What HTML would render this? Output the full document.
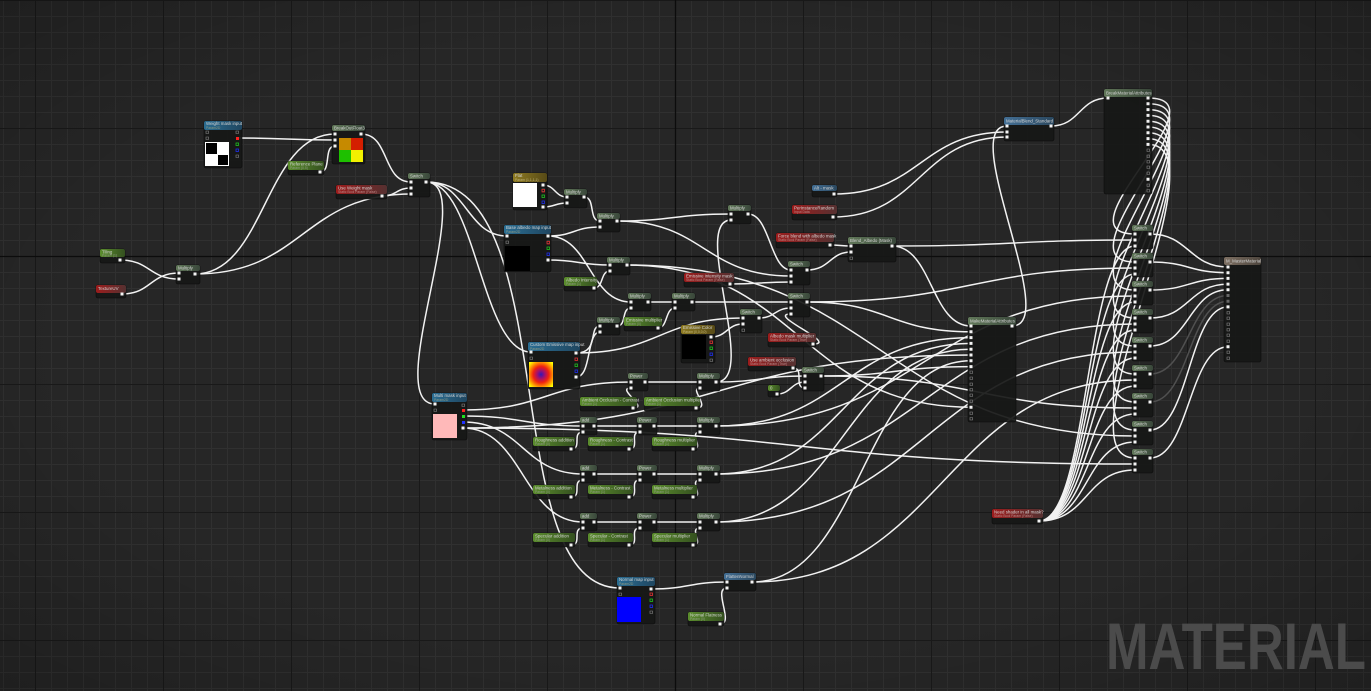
<!DOCTYPE html>
<html><head><meta charset="utf-8"><style>
html,body{margin:0;padding:0;background:#262626;overflow:hidden}
svg{display:block}
.t{font:4.4px "Liberation Sans",sans-serif;fill:#d4d4d4}
.s{font:3.4px "Liberation Sans",sans-serif;fill:#8d9a82}
.w path{fill:none;stroke:#f2f2f2;stroke-width:1.5;stroke-linecap:round}
.b{fill:#171817;fill-opacity:.93;stroke:#0b0b0b;stroke-width:.6}
</style></head><body>
<svg width="1371" height="691" viewBox="0 0 1371 691" xmlns="http://www.w3.org/2000/svg">
<defs>
<pattern id="fg" x="3" y="0" width="16" height="16" patternUnits="userSpaceOnUse"><path d="M0 .5H16M.5 0V16" stroke="#303030" stroke-width="1" fill="none"/></pattern>
<linearGradient id="gM"><stop offset="0" stop-color="#62795a"/><stop offset="1" stop-color="#39473a"/></linearGradient>
<linearGradient id="gP"><stop offset="0" stop-color="#5b8d2d"/><stop offset="1" stop-color="#34501f"/></linearGradient>
<linearGradient id="gR"><stop offset="0" stop-color="#9c1c1c"/><stop offset="1" stop-color="#553131"/></linearGradient>
<linearGradient id="gT"><stop offset="0" stop-color="#2b6e93"/><stop offset="1" stop-color="#1f4660"/></linearGradient>
<linearGradient id="gY"><stop offset="0" stop-color="#8e7b22"/><stop offset="1" stop-color="#574a16"/></linearGradient>
<linearGradient id="gF"><stop offset="0" stop-color="#436f95"/><stop offset="1" stop-color="#2a475e"/></linearGradient>
<linearGradient id="gO"><stop offset="0" stop-color="#7d6f62"/><stop offset="1" stop-color="#4d453d"/></linearGradient>
<radialGradient id="emi" cx=".5" cy=".5" r=".72"><stop offset="0" stop-color="#3018b8"/><stop offset=".22" stop-color="#a01070"/><stop offset=".45" stop-color="#f02010"/><stop offset=".7" stop-color="#ff9a00"/><stop offset=".9" stop-color="#ffff00"/></radialGradient>
<radialGradient id="vig" cx=".5" cy=".5" r=".75"><stop offset=".6" stop-color="#000" stop-opacity="0"/><stop offset="1" stop-color="#000" stop-opacity=".22"/></radialGradient>
</defs>
<rect width="1371" height="691" fill="#262626"/>
<rect width="1371" height="691" fill="url(#fg)"/>
<path d="M35.5 0V691M163.5 0V691M291.5 0V691M419.5 0V691M547.5 0V691M803.5 0V691M931.5 0V691M1059.5 0V691M1187.5 0V691M1315.5 0V691M0 .5H1371M0 128.5H1371M0 384.5H1371M0 512.5H1371M0 640.5H1371" stroke="#191919" stroke-width="1"/>
<path d="M675.5 0V691M0 256.5H1371" stroke="#0c0c0c" stroke-width="1.3"/>

<g class="w">
<path d="M120 260C150 260 149 279 179 279"/>
<path d="M122 294C151 294 150 273 179 273"/>
<path d="M195 274C265 274 265 134 335 134"/>
<path d="M195 274C303 274 303 194 411 194"/>
<path d="M237 138C286 138 286 140 335 140"/>
<path d="M320 172C332 172 323 146 335 146"/>
<path d="M361 134C390 134 382 182 411 182"/>
<path d="M382 196C397 196 396 188 411 188"/>
<path d="M426 182C466 182 467 236 507 236"/>
<path d="M426 182C480 182 380 404 435 404"/>
<path d="M426 182C476 182 481 352 531 352"/>
<path d="M426 182C565 182 495 588 620 588"/>
<path d="M543 185C555 185 555 197 567 197"/>
<path d="M543 207C555 207 555 203 567 203"/>
<path d="M584 197C596 197 588 221 600 221"/>
<path d="M548 236C574 236 574 227 600 227"/>
<path d="M548 236C590 236 589 302 631 302"/>
<path d="M548 260C579 260 579 265 610 265"/>
<path d="M594 288C604 288 600 271 610 271"/>
<path d="M617 326C627 326 621 308 631 308"/>
<path d="M617 221C674 221 674 214 731 214"/>
<path d="M617 221C704 221 704 276 791 276"/>
<path d="M648 302L675 302"/>
<path d="M658 328C668 328 665 308 675 308"/>
<path d="M692 302C740 302 743 302 791 302"/>
<path d="M576 353C600 353 588 326 600 326"/>
<path d="M576 377C592 377 586 332 600 332"/>
<path d="M576 353C660 353 660 318 743 318"/>
<path d="M711 337C727 337 727 324 743 324"/>
<path d="M759 318C775 318 775 308 791 308"/>
<path d="M730 284C760 284 760 282 791 282"/>
<path d="M813 344C840 344 765 314 791 314"/>
<path d="M748 214C770 214 770 270 791 270"/>
<path d="M807 270C830 270 830 252 851 252"/>
<path d="M830 245C840 245 841 246 851 246"/>
<path d="M463 410C547 410 547 382 631 382"/>
<path d="M633 408C650 408 615 388 631 388"/>
<path d="M645 382L700 382"/>
<path d="M696 408C712 408 688 388 700 388"/>
<path d="M716 382C760 382 761 376 805 376"/>
<path d="M716 382C760 382 690 220 731 220"/>
<path d="M777 394C791 394 791 382 805 382"/>
<path d="M793 368C805 368 793 388 805 388"/>
<path d="M463 416C523 416 523 426 583 426"/>
<path d="M463 422C523 422 523 474 583 474"/>
<path d="M463 428C523 428 523 522 583 522"/>
<path d="M594 426L640 426M654 426L700 426M571 449C583 449 571 432 583 432M629 449C641 449 628 432 640 432M693 449C705 449 688 432 700 432"/>
<path d="M594 474L640 474M654 474L700 474M571 497C583 497 571 480 583 480M629 497C641 497 628 480 640 480M693 497C705 497 688 480 700 480"/>
<path d="M594 522L640 522M654 522L700 522M571 545C583 545 571 528 583 528M629 545C641 545 628 528 640 528M693 545C705 545 688 528 700 528"/>
<path d="M651 589C689 589 689 582 727 582"/>
<path d="M720 624C735 624 712 588 727 588"/>
<path d="M892 246C932 246 931 326 971 326"/>
<path d="M807 302C889 302 889 331.8 971 331.8"/>
<path d="M716 426C843 426 844 337.6 971 337.6"/>
<path d="M716 474C843 474 844 343.4 971 343.4"/>
<path d="M716 522C843 522 844 349.2 971 349.2"/>
<path d="M463 428C717 428 717 355 971 355"/>
<path d="M752 582C862 582 861 360.8 971 360.8"/>
<path d="M821 376C896 376 896 366.6 971 366.6"/>
<path d="M627 265C799 265 799 407.2 971 407.2"/>
<path d="M892 246C1013 246 1014 240 1135 240"/>
<path d="M807 302C971 302 971 268 1135 268"/>
<path d="M716 426C925 426 926 296 1135 296"/>
<path d="M716 474C925 474 926 324 1135 324"/>
<path d="M716 522C925 522 926 352 1135 352"/>
<path d="M752 582C943 582 944 380 1135 380"/>
<path d="M821 376C978 376 978 408 1135 408"/>
<path d="M627 265C881 265 881 436 1135 436"/>
<path d="M463 428C799 428 799 464 1135 464"/>
<path d="M1012 326C1062 326 957 126 1007 126"/>
<path d="M834 194C920 194 921 132 1007 132"/>
<path d="M833 217C920 217 920 137 1007 137"/>
<path d="M1051 126C1080 126 1079 98 1108 98"/>
<path d="M1148 98C1228 98 1055 234 1135 234"/>
<path d="M1148 103.8C1228 103.8 1055 262 1135 262"/>
<path d="M1148 109.6C1228 109.6 1055 290 1135 290"/>
<path d="M1148 115.4C1228 115.4 1055 318 1135 318"/>
<path d="M1148 121.2C1228 121.2 1055 346 1135 346"/>
<path d="M1148 127C1228 127 1055 374 1135 374"/>
<path d="M1148 132.8C1228 132.8 1055 402 1135 402"/>
<path d="M1148 138.6C1228 138.6 1055 430 1135 430"/>
<path d="M1148 144.4C1228 144.4 1055 458 1135 458"/>
<path d="M1039 521C1089 521 1085 246 1135 246"/>
<path d="M1039 521C1089 521 1085 274 1135 274"/>
<path d="M1039 521C1089 521 1085 302 1135 302"/>
<path d="M1039 521C1089 521 1085 330 1135 330"/>
<path d="M1039 521C1089 521 1085 358 1135 358"/>
<path d="M1039 521C1089 521 1085 386 1135 386"/>
<path d="M1039 521C1089 521 1085 414 1135 414"/>
<path d="M1039 521C1089 521 1085 442 1135 442"/>
<path d="M1039 521C1089 521 1085 470 1135 470"/>
<path d="M1150 234C1189 234 1189 267 1228 267"/>
<path d="M1150 262C1189 262 1189 272.7 1228 272.7"/>
<path d="M1150 290C1189 290 1189 278.4 1228 278.4"/>
<path d="M1150 318C1189 318 1189 284.1 1228 284.1"/>
<path d="M1150 346C1189 346 1189 289.8 1228 289.8"/>
<path d="M1150 374C1189 374 1189 295.5 1228 295.5" style="stroke:#505050"/>
<path d="M1150 402C1189 402 1189 301.2 1228 301.2" style="stroke:#505050"/>
<path d="M1150 430C1189 430 1189 306.9 1228 306.9"/>
<path d="M1150 458C1189 458 1189 346.8 1228 346.8"/>
</g>

<g>
<g transform="translate(100,249)"><rect class="b" width="25" height="14" rx="2"/><rect width="25" height="8" rx="2" fill="url(#gP)"/><text class="t" x="2" y="4.5">Tiling</text><text class="s" x="2" y="7.6">Param (1)</text></g>
<g transform="translate(96,285)"><rect class="b" width="30" height="13" rx="2"/><rect width="30" height="8" rx="2" fill="url(#gR)"/><text class="t" x="2" y="5">TextureUV</text></g>
<g transform="translate(176,265)"><rect class="b" width="24" height="19" rx="2"/><rect width="24" height="6" rx="2" fill="url(#gM)"/><text class="t" x="2" y="4.6">Multiply</text></g>
<g transform="translate(204,121)"><rect class="b" width="38" height="47" rx="2"/><rect width="38" height="9" rx="2" fill="url(#gT)"/><text class="t" x="2" y="4.2">Weight mask input</text><text class="s" x="2" y="7.8">Param2D</text></g>
<rect x="205" y="142" width="24" height="24" fill="#fff"/><rect x="206" y="143" width="11" height="11" fill="#000"/><rect x="218" y="155" width="10" height="10" fill="#000"/>
<g transform="translate(332,125)"><rect class="b" width="33" height="39" rx="2"/><rect width="33" height="6" rx="2" fill="url(#gM)"/><text class="t" x="2" y="4.6">BreakOutFloat3</text></g>
<rect x="339" y="138" width="12" height="12" fill="#c68a00"/><rect x="351" y="138" width="12" height="12" fill="#d41e00"/><rect x="339" y="150" width="12" height="12" fill="#1ec000"/><rect x="351" y="150" width="12" height="12" fill="#f2f000"/>
<g transform="translate(288,161)"><rect class="b" width="36" height="14" rx="2"/><rect width="36" height="9" rx="2" fill="url(#gP)"/><text class="t" x="2" y="4.4">Reference Plane</text><text class="s" x="2" y="8">Param (0.5)</text></g>
<g transform="translate(336,185)"><rect class="b" width="51" height="14" rx="2"/><rect width="51" height="9" rx="2" fill="url(#gR)"/><text class="t" x="2" y="4.4">Use Weight mask</text><text class="s" x="2" y="8" style="fill:#b88">Static Bool Param (False)</text></g>
<g transform="translate(408,173)"><rect class="b" width="22" height="24" rx="2"/><rect width="22" height="6" rx="2" fill="url(#gM)"/><text class="t" x="2" y="4.6">Switch</text></g>
<g transform="translate(513,173)"><rect class="b" width="34" height="37" rx="2"/><rect width="34" height="9" rx="2" fill="url(#gY)"/><text class="t" x="2" y="4.2">Flat</text><text class="s" x="2" y="7.8" style="fill:#bfb37a">Param (1,1,1,1)</text></g>
<rect x="513" y="183" width="24" height="24" fill="#fff"/>
<g transform="translate(564,189)"><rect class="b" width="23" height="19" rx="2"/><rect width="23" height="6" rx="2" fill="url(#gM)"/><text class="t" x="2" y="4.6">Multiply</text></g>
<g transform="translate(597,213)"><rect class="b" width="23" height="19" rx="2"/><rect width="23" height="6" rx="2" fill="url(#gM)"/><text class="t" x="2" y="4.6">Multiply</text></g>
<g transform="translate(504,225)"><rect class="b" width="47" height="47" rx="2"/><rect width="47" height="9" rx="2" fill="url(#gT)"/><text class="t" x="2" y="4.2">Base albedo map input</text><text class="s" x="2" y="7.8">Param2D</text></g>
<rect x="505" y="246" width="25" height="25" fill="#000"/>
<g transform="translate(607,257)"><rect class="b" width="23" height="18" rx="2"/><rect width="23" height="6" rx="2" fill="url(#gM)"/><text class="t" x="2" y="4.6">Multiply</text></g>
<g transform="translate(564,277)"><rect class="b" width="33" height="14" rx="2"/><rect width="33" height="9" rx="2" fill="url(#gP)"/><text class="t" x="2" y="4.4">Albedo Intensity</text><text class="s" x="2" y="8">Param (1)</text></g>
<g transform="translate(628,293)"><rect class="b" width="23" height="18" rx="2"/><rect width="23" height="6" rx="2" fill="url(#gM)"/><text class="t" x="2" y="4.6">Multiply</text></g>
<g transform="translate(672,293)"><rect class="b" width="23" height="18" rx="2"/><rect width="23" height="6" rx="2" fill="url(#gM)"/><text class="t" x="2" y="4.6">Multiply</text></g>
<g transform="translate(597,317)"><rect class="b" width="23" height="18" rx="2"/><rect width="23" height="6" rx="2" fill="url(#gM)"/><text class="t" x="2" y="4.6">Multiply</text></g>
<g transform="translate(624,317)"><rect class="b" width="38" height="14" rx="2"/><rect width="38" height="9" rx="2" fill="url(#gP)"/><text class="t" x="2" y="4.4">Emissive multiplier</text><text class="s" x="2" y="8">Param (0)</text></g>
<g transform="translate(681,325)"><rect class="b" width="34" height="38" rx="2"/><rect width="34" height="9" rx="2" fill="url(#gY)"/><text class="t" x="2" y="4.2">Emissive Color</text><text class="s" x="2" y="7.8" style="fill:#bfb37a">Param (0,0,0,0)</text></g>
<rect x="682" y="335" width="24" height="24" fill="#000"/>
<g transform="translate(528,342)"><rect class="b" width="52" height="47" rx="2"/><rect width="52" height="9" rx="2" fill="url(#gT)"/><text class="t" x="2" y="4.2">Custom Emissive map input</text><text class="s" x="2" y="7.8">Param2D</text></g>
<rect x="529" y="362" width="24" height="25" fill="url(#emi)"/>
<g transform="translate(728,205)"><rect class="b" width="23" height="19" rx="2"/><rect width="23" height="6" rx="2" fill="url(#gM)"/><text class="t" x="2" y="4.6">Multiply</text></g>
<g transform="translate(684,273)"><rect class="b" width="50" height="14" rx="2"/><rect width="50" height="9" rx="2" fill="url(#gR)"/><text class="t" x="2" y="4.4">Emissive intensity mask</text><text class="s" x="2" y="8" style="fill:#b88">Static Bool Param (False)</text></g>
<g transform="translate(788,261)"><rect class="b" width="22" height="24" rx="2"/><rect width="22" height="6" rx="2" fill="url(#gM)"/><text class="t" x="2" y="4.6">Switch</text></g>
<g transform="translate(788,293)"><rect class="b" width="22" height="24" rx="2"/><rect width="22" height="6" rx="2" fill="url(#gM)"/><text class="t" x="2" y="4.6">Switch</text></g>
<g transform="translate(740,309)"><rect class="b" width="22" height="24" rx="2"/><rect width="22" height="6" rx="2" fill="url(#gM)"/><text class="t" x="2" y="4.6">Switch</text></g>
<g transform="translate(768,333)"><rect class="b" width="48" height="14" rx="2"/><rect width="48" height="9" rx="2" fill="url(#gR)"/><text class="t" x="2" y="4.4">Albedo mask multiplier</text><text class="s" x="2" y="8" style="fill:#b88">Static Bool Param (True)</text></g>
<g transform="translate(748,357)"><rect class="b" width="48" height="14" rx="2"/><rect width="48" height="9" rx="2" fill="url(#gR)"/><text class="t" x="2" y="4.4">Use ambient occlusion</text><text class="s" x="2" y="8" style="fill:#b88">Static Bool Param (True)</text></g>
<g transform="translate(802,367)"><rect class="b" width="22" height="24" rx="2"/><rect width="22" height="6" rx="2" fill="url(#gM)"/><text class="t" x="2" y="4.6">Switch</text></g>
<g transform="translate(768,385)"><rect class="b" width="12" height="12" rx="2"/><rect width="12" height="6" rx="2" fill="url(#gP)"/><text class="t" x="2" y="4.6">0</text></g>
<g transform="translate(628,373)"><rect class="b" width="20" height="18" rx="2"/><rect width="20" height="6" rx="2" fill="url(#gM)"/><text class="t" x="2" y="4.6">Power</text></g>
<g transform="translate(697,373)"><rect class="b" width="23" height="18" rx="2"/><rect width="23" height="6" rx="2" fill="url(#gM)"/><text class="t" x="2" y="4.6">Multiply</text></g>
<g transform="translate(580,397)"><rect class="b" width="57" height="14" rx="2"/><rect width="57" height="9" rx="2" fill="url(#gP)"/><text class="t" x="2" y="4.4">Ambient Occlusion - Contrast</text><text class="s" x="2" y="8">Param (1)</text></g>
<g transform="translate(644,397)"><rect class="b" width="56" height="14" rx="2"/><rect width="56" height="9" rx="2" fill="url(#gP)"/><text class="t" x="2" y="4.4">Ambient Occlusion multiplier</text><text class="s" x="2" y="8">Param (1)</text></g>
<g transform="translate(432,393)"><rect class="b" width="35" height="47" rx="2"/><rect width="35" height="9" rx="2" fill="url(#gT)"/><text class="t" x="2" y="4.2">Multi mask input</text><text class="s" x="2" y="7.8">Param2D</text></g>
<rect x="433" y="414" width="24" height="24" fill="#ffb9b9"/>

<g transform="translate(580,417)"><rect class="b" width="17" height="18" rx="2"/><rect width="17" height="6" rx="2" fill="url(#gM)"/><text class="t" x="2" y="4.6">add</text></g>
<g transform="translate(637,417)"><rect class="b" width="20" height="18" rx="2"/><rect width="20" height="6" rx="2" fill="url(#gM)"/><text class="t" x="2" y="4.6">Power</text></g>
<g transform="translate(697,417)"><rect class="b" width="23" height="18" rx="2"/><rect width="23" height="6" rx="2" fill="url(#gM)"/><text class="t" x="2" y="4.6">Multiply</text></g>
<g transform="translate(533,437)"><rect class="b" width="42" height="14" rx="2"/><rect width="42" height="9" rx="2" fill="url(#gP)"/><text class="t" x="2" y="4.4">Roughness addition</text><text class="s" x="2" y="8">Param (0)</text></g>
<g transform="translate(588,437)"><rect class="b" width="45" height="14" rx="2"/><rect width="45" height="9" rx="2" fill="url(#gP)"/><text class="t" x="2" y="4.4">Roughness - Contrast</text><text class="s" x="2" y="8">Param (1)</text></g>
<g transform="translate(652,437)"><rect class="b" width="45" height="14" rx="2"/><rect width="45" height="9" rx="2" fill="url(#gP)"/><text class="t" x="2" y="4.4">Roughness multiplier</text><text class="s" x="2" y="8">Param (1)</text></g>

<g transform="translate(580,465)"><rect class="b" width="17" height="18" rx="2"/><rect width="17" height="6" rx="2" fill="url(#gM)"/><text class="t" x="2" y="4.6">add</text></g>
<g transform="translate(637,465)"><rect class="b" width="20" height="18" rx="2"/><rect width="20" height="6" rx="2" fill="url(#gM)"/><text class="t" x="2" y="4.6">Power</text></g>
<g transform="translate(697,465)"><rect class="b" width="23" height="18" rx="2"/><rect width="23" height="6" rx="2" fill="url(#gM)"/><text class="t" x="2" y="4.6">Multiply</text></g>
<g transform="translate(533,485)"><rect class="b" width="42" height="14" rx="2"/><rect width="42" height="9" rx="2" fill="url(#gP)"/><text class="t" x="2" y="4.4">Metalness addition</text><text class="s" x="2" y="8">Param (0)</text></g>
<g transform="translate(588,485)"><rect class="b" width="45" height="14" rx="2"/><rect width="45" height="9" rx="2" fill="url(#gP)"/><text class="t" x="2" y="4.4">Metalness - Contrast</text><text class="s" x="2" y="8">Param (1)</text></g>
<g transform="translate(652,485)"><rect class="b" width="45" height="14" rx="2"/><rect width="45" height="9" rx="2" fill="url(#gP)"/><text class="t" x="2" y="4.4">Metalness multiplier</text><text class="s" x="2" y="8">Param (1)</text></g>

<g transform="translate(580,513)"><rect class="b" width="17" height="18" rx="2"/><rect width="17" height="6" rx="2" fill="url(#gM)"/><text class="t" x="2" y="4.6">add</text></g>
<g transform="translate(637,513)"><rect class="b" width="20" height="18" rx="2"/><rect width="20" height="6" rx="2" fill="url(#gM)"/><text class="t" x="2" y="4.6">Power</text></g>
<g transform="translate(697,513)"><rect class="b" width="23" height="18" rx="2"/><rect width="23" height="6" rx="2" fill="url(#gM)"/><text class="t" x="2" y="4.6">Multiply</text></g>
<g transform="translate(533,533)"><rect class="b" width="42" height="14" rx="2"/><rect width="42" height="9" rx="2" fill="url(#gP)"/><text class="t" x="2" y="4.4">Specular addition</text><text class="s" x="2" y="8">Param (0)</text></g>
<g transform="translate(588,533)"><rect class="b" width="45" height="14" rx="2"/><rect width="45" height="9" rx="2" fill="url(#gP)"/><text class="t" x="2" y="4.4">Specular - Contrast</text><text class="s" x="2" y="8">Param (1)</text></g>
<g transform="translate(652,533)"><rect class="b" width="45" height="14" rx="2"/><rect width="45" height="9" rx="2" fill="url(#gP)"/><text class="t" x="2" y="4.4">Specular multiplier</text><text class="s" x="2" y="8">Param (1)</text></g>

<g transform="translate(617,577)"><rect class="b" width="38" height="47" rx="2"/><rect width="38" height="9" rx="2" fill="url(#gT)"/><text class="t" x="2" y="4.2">Normal map input</text><text class="s" x="2" y="7.8">Param2D</text></g>
<rect x="617" y="597" width="24" height="25" fill="#0000ff"/>
<g transform="translate(724,573)"><rect class="b" width="32" height="18" rx="2"/><rect width="32" height="7" rx="2" fill="url(#gF)"/><text class="t" x="2" y="5">FlattenNormal</text></g>
<g transform="translate(688,612)"><rect class="b" width="36" height="14" rx="2"/><rect width="36" height="9" rx="2" fill="url(#gP)"/><text class="t" x="2" y="4.4">Normal Flatness</text><text class="s" x="2" y="8">Param (0)</text></g>

<g transform="translate(812,185)"><rect class="b" width="25" height="12" rx="2"/><rect width="25" height="6" rx="2" fill="url(#gF)"/><text class="t" x="2" y="4.6">Alt - mask</text></g>
<g transform="translate(792,205)"><rect class="b" width="45" height="15" rx="2"/><rect width="45" height="9" rx="2" fill="url(#gR)"/><text class="t" x="2" y="4.4">PerInstanceRandom</text><text class="s" x="2" y="8" style="fill:#b88">Input Data</text></g>
<g transform="translate(776,233)"><rect class="b" width="58" height="15" rx="2"/><rect width="58" height="9" rx="2" fill="url(#gR)"/><text class="t" x="2" y="4.4">Force blend with albedo mask</text><text class="s" x="2" y="8" style="fill:#b88">Static Bool Param (False)</text></g>
<g transform="translate(848,237)"><rect class="b" width="48" height="25" rx="2"/><rect width="48" height="7" rx="2" fill="url(#gM)"/><text class="t" x="2" y="5">Blend_Albedo (Mask)</text></g>

<g transform="translate(968,317)"><rect class="b" width="48" height="105" rx="2"/><rect width="48" height="8" rx="2" fill="url(#gM)"/><text class="t" x="2" y="5.4">MakeMaterialAttributes</text></g>
<g transform="translate(1004,117)"><rect class="b" width="50" height="24" rx="2"/><rect width="50" height="8" rx="2" fill="url(#gF)"/><text class="t" x="2" y="5.4">MaterialBlend_Standard</text></g>
<g transform="translate(1104,89)"><rect class="b" width="48" height="105" rx="2"/><rect width="48" height="8" rx="2" fill="url(#gM)"/><text class="t" x="2" y="5.4">BreakMaterialAttributes</text></g>
<g transform="translate(1132,225)"><rect class="b" width="21" height="24" rx="2"/><rect width="21" height="6" rx="2" fill="url(#gM)"/><text class="t" x="2" y="4.6">Switch</text></g>
<g transform="translate(1132,253)"><rect class="b" width="21" height="24" rx="2"/><rect width="21" height="6" rx="2" fill="url(#gM)"/><text class="t" x="2" y="4.6">Switch</text></g>
<g transform="translate(1132,281)"><rect class="b" width="21" height="24" rx="2"/><rect width="21" height="6" rx="2" fill="url(#gM)"/><text class="t" x="2" y="4.6">Switch</text></g>
<g transform="translate(1132,309)"><rect class="b" width="21" height="24" rx="2"/><rect width="21" height="6" rx="2" fill="url(#gM)"/><text class="t" x="2" y="4.6">Switch</text></g>
<g transform="translate(1132,337)"><rect class="b" width="21" height="24" rx="2"/><rect width="21" height="6" rx="2" fill="url(#gM)"/><text class="t" x="2" y="4.6">Switch</text></g>
<g transform="translate(1132,365)"><rect class="b" width="21" height="24" rx="2"/><rect width="21" height="6" rx="2" fill="url(#gM)"/><text class="t" x="2" y="4.6">Switch</text></g>
<g transform="translate(1132,393)"><rect class="b" width="21" height="24" rx="2"/><rect width="21" height="6" rx="2" fill="url(#gM)"/><text class="t" x="2" y="4.6">Switch</text></g>
<g transform="translate(1132,421)"><rect class="b" width="21" height="24" rx="2"/><rect width="21" height="6" rx="2" fill="url(#gM)"/><text class="t" x="2" y="4.6">Switch</text></g>
<g transform="translate(1132,449)"><rect class="b" width="21" height="24" rx="2"/><rect width="21" height="6" rx="2" fill="url(#gM)"/><text class="t" x="2" y="4.6">Switch</text></g>
<g transform="translate(1224,257)"><rect class="b" width="37" height="105" rx="2"/><rect width="37" height="8" rx="2" fill="url(#gO)"/><text class="t" x="2" y="5.4">M_MasterMaterial</text></g>
<g transform="translate(992,509)"><rect class="b" width="51" height="15" rx="2"/><rect width="51" height="9" rx="2" fill="url(#gR)"/><text class="t" x="2" y="4.4">Need shader in all mask?</text><text class="s" x="2" y="8" style="fill:#b88">Static Bool Param (False)</text></g>
</g>

<path fill="#f4f4f4" d="M118.5 258.5h3v3h-3zM120.5 292.5h3v3h-3zM193.5 272.5h3v3h-3zM359.5 132.5h3v3h-3zM318.5 170.5h3v3h-3zM380.5 194.5h3v3h-3zM424.5 180.5h3v3h-3zM541.5 183.5h3v3h-3zM541.5 205.5h3v3h-3zM582.5 195.5h3v3h-3zM615.5 219.5h3v3h-3zM546.5 234.5h3v3h-3zM546.5 258.5h3v3h-3zM625.5 263.5h3v3h-3zM592.5 286.5h3v3h-3zM646.5 300.5h3v3h-3zM690.5 300.5h3v3h-3zM615.5 324.5h3v3h-3zM656.5 326.5h3v3h-3zM709.5 335.5h3v3h-3zM574.5 351.5h3v3h-3zM574.5 375.5h3v3h-3zM746.5 212.5h3v3h-3zM728.5 282.5h3v3h-3zM805.5 268.5h3v3h-3zM805.5 300.5h3v3h-3zM757.5 316.5h3v3h-3zM811.5 342.5h3v3h-3zM791.5 366.5h3v3h-3zM819.5 374.5h3v3h-3zM775.5 392.5h3v3h-3zM643.5 380.5h3v3h-3zM714.5 380.5h3v3h-3zM631.5 406.5h3v3h-3zM694.5 406.5h3v3h-3zM461.5 426.5h3v3h-3z
M592.5 424.5h3v3h-3zM652.5 424.5h3v3h-3zM714.5 424.5h3v3h-3zM569.5 447.5h3v3h-3zM627.5 447.5h3v3h-3zM691.5 447.5h3v3h-3z
M592.5 472.5h3v3h-3zM652.5 472.5h3v3h-3zM714.5 472.5h3v3h-3zM569.5 495.5h3v3h-3zM627.5 495.5h3v3h-3zM691.5 495.5h3v3h-3z
M592.5 520.5h3v3h-3zM652.5 520.5h3v3h-3zM714.5 520.5h3v3h-3zM569.5 543.5h3v3h-3zM627.5 543.5h3v3h-3zM691.5 543.5h3v3h-3z
M649.5 587.5h3v3h-3zM750.5 580.5h3v3h-3zM718.5 622.5h3v3h-3zM832.5 192.5h3v3h-3zM831.5 215.5h3v3h-3zM828.5 243.5h3v3h-3zM890.5 244.5h3v3h-3zM1010.5 324.5h3v3h-3zM1049.5 124.5h3v3h-3zM1037.5 519.5h3v3h-3z
M1148.5 232.5h3v3h-3zM1148.5 260.5h3v3h-3zM1148.5 288.5h3v3h-3zM1148.5 316.5h3v3h-3zM1148.5 344.5h3v3h-3zM1148.5 372.5h3v3h-3zM1148.5 400.5h3v3h-3zM1148.5 428.5h3v3h-3zM1148.5 456.5h3v3h-3z
M1146.5 96.5h3v3h-3zM1146.5 102.3h3v3h-3zM1146.5 108.1h3v3h-3zM1146.5 113.9h3v3h-3zM1146.5 119.7h3v3h-3zM1146.5 125.5h3v3h-3zM1146.5 131.3h3v3h-3zM1146.5 137.1h3v3h-3zM1146.5 142.9h3v3h-3zM1146.5 177.7h3v3h-3z
M177.5 271.5h3v3h-3zM177.5 277.5h3v3h-3zM333.5 132.5h3v3h-3zM333.5 138.5h3v3h-3zM333.5 144.5h3v3h-3zM409.5 180.5h3v3h-3zM409.5 186.5h3v3h-3zM409.5 192.5h3v3h-3zM505.5 234.5h3v3h-3zM529.5 350.5h3v3h-3zM433.5 402.5h3v3h-3zM618.5 586.5h3v3h-3z
M565.5 195.5h3v3h-3zM565.5 201.5h3v3h-3zM598.5 219.5h3v3h-3zM598.5 225.5h3v3h-3zM608.5 263.5h3v3h-3zM608.5 269.5h3v3h-3zM629.5 300.5h3v3h-3zM629.5 306.5h3v3h-3zM673.5 300.5h3v3h-3zM673.5 306.5h3v3h-3zM598.5 324.5h3v3h-3zM598.5 330.5h3v3h-3zM729.5 212.5h3v3h-3zM729.5 218.5h3v3h-3z
M789.5 268.5h3v3h-3zM789.5 274.5h3v3h-3zM789.5 280.5h3v3h-3zM789.5 300.5h3v3h-3zM789.5 306.5h3v3h-3zM789.5 312.5h3v3h-3zM741.5 316.5h3v3h-3zM741.5 322.5h3v3h-3zM803.5 374.5h3v3h-3zM803.5 380.5h3v3h-3zM803.5 386.5h3v3h-3zM629.5 380.5h3v3h-3zM629.5 386.5h3v3h-3zM698.5 380.5h3v3h-3zM698.5 386.5h3v3h-3z
M581.5 424.5h3v3h-3zM581.5 430.5h3v3h-3zM638.5 424.5h3v3h-3zM638.5 430.5h3v3h-3zM698.5 424.5h3v3h-3zM698.5 430.5h3v3h-3z
M581.5 472.5h3v3h-3zM581.5 478.5h3v3h-3zM638.5 472.5h3v3h-3zM638.5 478.5h3v3h-3zM698.5 472.5h3v3h-3zM698.5 478.5h3v3h-3z
M581.5 520.5h3v3h-3zM581.5 526.5h3v3h-3zM638.5 520.5h3v3h-3zM638.5 526.5h3v3h-3zM698.5 520.5h3v3h-3zM698.5 526.5h3v3h-3z
M725.5 580.5h3v3h-3zM725.5 586.5h3v3h-3zM849.5 244.5h3v3h-3zM849.5 250.5h3v3h-3zM1005.5 124.5h3v3h-3zM1005.5 130.5h3v3h-3zM1005.5 135.5h3v3h-3zM1106.5 96.5h3v3h-3z
M969.5 324.5h3v3h-3zM969.5 330.3h3v3h-3zM969.5 336.1h3v3h-3zM969.5 341.9h3v3h-3zM969.5 347.7h3v3h-3zM969.5 353.5h3v3h-3zM969.5 359.3h3v3h-3zM969.5 365.1h3v3h-3zM969.5 405.7h3v3h-3z
M1133.5 232.5h3v3h-3zM1133.5 238.5h3v3h-3zM1133.5 244.5h3v3h-3zM1133.5 260.5h3v3h-3zM1133.5 266.5h3v3h-3zM1133.5 272.5h3v3h-3zM1133.5 288.5h3v3h-3zM1133.5 294.5h3v3h-3zM1133.5 300.5h3v3h-3zM1133.5 316.5h3v3h-3zM1133.5 322.5h3v3h-3zM1133.5 328.5h3v3h-3zM1133.5 344.5h3v3h-3zM1133.5 350.5h3v3h-3zM1133.5 356.5h3v3h-3zM1133.5 372.5h3v3h-3zM1133.5 378.5h3v3h-3zM1133.5 384.5h3v3h-3zM1133.5 400.5h3v3h-3zM1133.5 406.5h3v3h-3zM1133.5 412.5h3v3h-3zM1133.5 428.5h3v3h-3zM1133.5 434.5h3v3h-3zM1133.5 440.5h3v3h-3zM1133.5 456.5h3v3h-3zM1133.5 462.5h3v3h-3zM1133.5 468.5h3v3h-3z
M1226.5 265.5h3v3h-3zM1226.5 271.2h3v3h-3zM1226.5 276.9h3v3h-3zM1226.5 282.6h3v3h-3zM1226.5 288.3h3v3h-3zM1226.5 305.4h3v3h-3zM1226.5 345.3h3v3h-3z"/>
<path fill="none" stroke="#8a8a8a" stroke-width=".6" d="M206 131h2.5v2.5h-2.5zM206 137h2.5v2.5h-2.5zM506 241h2.5v2.5h-2.5zM530 357h2.5v2.5h-2.5zM434 409h2.5v2.5h-2.5zM619 593h2.5v2.5h-2.5zM850 257h2.5v2.5h-2.5zM742 329h2.5v2.5h-2.5z
M970 371h2.5v2.5h-2.5zM970 377h2.5v2.5h-2.5zM970 383h2.5v2.5h-2.5zM970 388.5h2.5v2.5h-2.5zM970 394h2.5v2.5h-2.5zM970 400h2.5v2.5h-2.5zM970 412h2.5v2.5h-2.5zM970 417.5h2.5v2.5h-2.5z
M1147 149h2.5v2.5h-2.5zM1147 155h2.5v2.5h-2.5zM1147 160.5h2.5v2.5h-2.5zM1147 166h2.5v2.5h-2.5zM1147 172h2.5v2.5h-2.5zM1147 184h2.5v2.5h-2.5zM1147 189.5h2.5v2.5h-2.5z
M1227 311.5h2.5v2.5h-2.5zM1227 317h2.5v2.5h-2.5zM1227 323h2.5v2.5h-2.5zM1227 328.5h2.5v2.5h-2.5zM1227 334h2.5v2.5h-2.5zM1227 340h2.5v2.5h-2.5zM1227 351h2.5v2.5h-2.5zM1227 357h2.5v2.5h-2.5z
M236 131h2.5v2.5h-2.5zM236 155h2.5v2.5h-2.5zM542 189h2.5v2.5h-2.5zM547 241h2.5v2.5h-2.5zM575 358h2.5v2.5h-2.5zM710 341h2.5v2.5h-2.5zM462 404h2.5v2.5h-2.5zM650 593h2.5v2.5h-2.5zM650 611h2.5v2.5h-2.5zM710 359h2.5v2.5h-2.5z"/>
<path fill="#666" d="M1226.5 294h3v3h-3zM1226.5 299.7h3v3h-3z"/>
<path fill="#ff2020" d="M236 137h3v3h-3zM462 409h3v3h-3z"/>
<path fill="#20e020" d="M462 415h3v3h-3z"/>
<path fill="#2030ff" d="M462 421h3v3h-3z"/>
<path fill="none" stroke="#e02020" stroke-width=".7" d="M542 189.5h2.5v2.5h-2.5zM547 241.5h2.5v2.5h-2.5zM575 358h2.5v2.5h-2.5zM710 341h2.5v2.5h-2.5zM650 593h2.5v2.5h-2.5z"/>
<path fill="none" stroke="#20d020" stroke-width=".7" d="M236 143h2.5v2.5h-2.5zM542 195h2.5v2.5h-2.5zM547 247h2.5v2.5h-2.5zM575 364h2.5v2.5h-2.5zM710 347h2.5v2.5h-2.5zM650 599h2.5v2.5h-2.5z"/>
<path fill="none" stroke="#2030ff" stroke-width=".7" d="M236 149h2.5v2.5h-2.5zM542 201h2.5v2.5h-2.5zM547 253h2.5v2.5h-2.5zM575 370h2.5v2.5h-2.5zM710 353h2.5v2.5h-2.5zM650 605h2.5v2.5h-2.5z"/>

<rect width="1371" height="691" fill="url(#vig)"/>
<text x="1106" y="669" textLength="260" lengthAdjust="spacingAndGlyphs" style="font:bold 66px 'Liberation Sans',sans-serif;fill:#4b4b4b">MATERIAL</text>
</svg>
</body></html>
